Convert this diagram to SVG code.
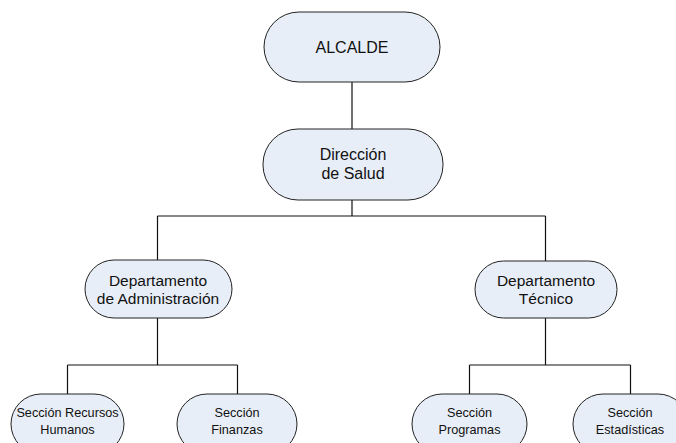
<svg xmlns="http://www.w3.org/2000/svg" width="676" height="443" viewBox="0 0 676 443">
<style>
.n{fill:#e8eef8;stroke:#222;stroke-width:1}
.c{stroke:#111;stroke-width:1.2;fill:none}
text{font-family:"Liberation Sans",Arial,sans-serif;fill:#111;text-anchor:middle}
.t0{font-size:16px}
.t1{font-size:15.5px}
.t2{font-size:12.7px}
</style>
<rect width="676" height="443" fill="#fff"/>
<g id="connectors">
<path class="c" d="M352 82V129M352 200V216M157.5 216H545.5M157.5 216V260M545.5 216V261M157.5 318V365M67.5 365H237.5M67.5 365V394M237.5 365V394M545.5 318V365M469.5 365H630.5M469.5 365V394M630.5 365V394"/>
</g>
<g id="alcalde"><rect class="n" x="264" y="12" width="176" height="70" rx="35"/><text class="t0" x="352" y="53">ALCALDE</text></g>
<g id="direccion"><rect class="n" x="263" y="129" width="180" height="71" rx="35"/><text class="t0" x="353" y="160">Dirección</text><text class="t0" x="353" y="179">de Salud</text></g>
<g id="dept-admin"><rect class="n" x="85" y="260" width="147" height="58" rx="29"/><text class="t1" x="158" y="286">Departamento</text><text class="t1" x="158" y="304">de Administración</text></g>
<g id="dept-tecnico"><rect class="n" x="475" y="261" width="142" height="57" rx="28.5"/><text class="t1" x="546" y="286">Departamento</text><text class="t1" x="546" y="304">Técnico</text></g>
<g id="sec-rrhh"><rect class="n" x="11" y="394" width="113" height="60" rx="30"/><text class="t2" x="67.5" y="417">Sección Recursos</text><text class="t2" x="67.5" y="434">Humanos</text></g>
<g id="sec-finanzas"><rect class="n" x="177" y="394" width="120" height="60" rx="30"/><text class="t2" x="237" y="417">Sección</text><text class="t2" x="237" y="434">Finanzas</text></g>
<g id="sec-programas"><rect class="n" x="412" y="394" width="115" height="60" rx="30"/><text class="t2" x="469.5" y="417">Sección</text><text class="t2" x="469.5" y="434">Programas</text></g>
<g id="sec-estadisticas"><rect class="n" x="573" y="394" width="115" height="60" rx="30"/><text class="t2" x="630" y="417">Sección</text><text class="t2" x="630" y="434">Estadísticas</text></g>
</svg>
